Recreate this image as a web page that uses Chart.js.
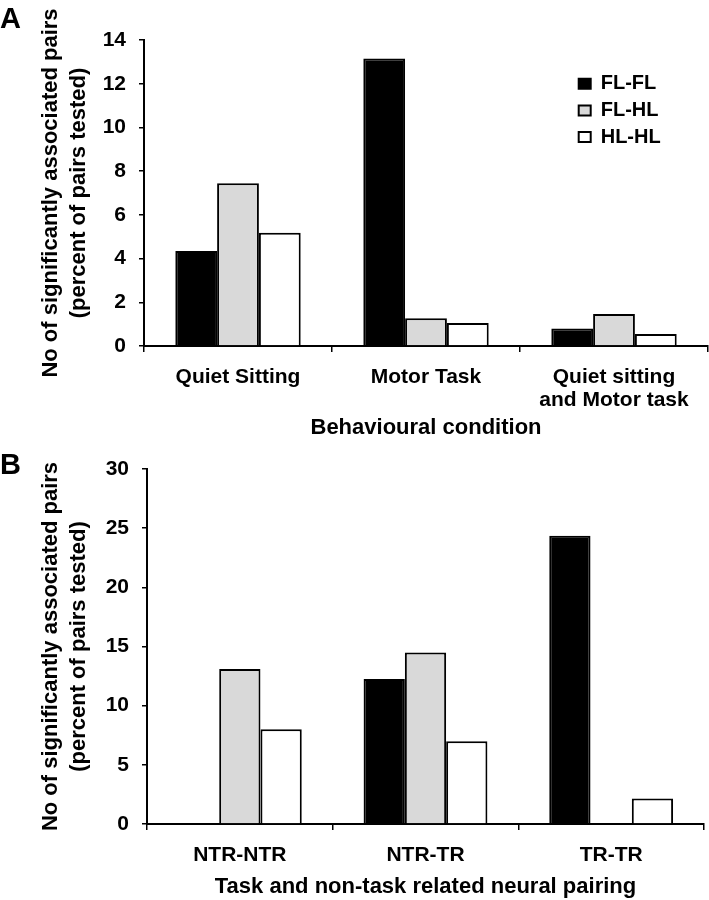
<!DOCTYPE html>
<html>
<head>
<meta charset="utf-8">
<script src="https://cdn.jsdelivr.net/npm/chart.js@4"></script>
<style>
  body { margin: 0; background: #fff; }
  #wrap { position: relative; width: 709px; height: 900px; }
  canvas { position: absolute; left: 0; }
  #chartA { top: 0; }
  #chartB { top: 441px; }
  .panel { position: absolute; left: 0; font: bold 29px 'Liberation Sans', Arial, sans-serif; line-height: 28px; color: #000; }
</style>
</head>
<body>
<div id="wrap">
  <canvas id="chartA" width="709" height="441"></canvas>
  <canvas id="chartB" width="709" height="459"></canvas>
  <div class="panel" style="top:4px">A</div>
  <div class="panel" style="top:450px">B</div>
</div>
<script>
// panel A: behavioural condition
const conditions = ['Quiet Sitting', 'Motor Task', ['Quiet sitting', 'and Motor task']];
const flflA = [4.35, 13.15, 0.8];
const flhlA = [7.45, 1.27, 1.46];
const hlhlA = [5.18, 1.05, 0.55];

// panel B: task / non-task related pairing
const pairings = ['NTR-NTR', 'NTR-TR', 'TR-TR'];
const flflB = [0, 12.25, 24.35];
const flhlB = [13.1, 14.5, 0];
const hlhlB = [8.0, 7.0, 2.15];

const seriesNames = ['FL-FL', 'FL-HL', 'HL-HL'];
const fills = ['#000000', '#d9d9d9', '#ffffff'];

Chart.defaults.font.family = "'Liberation Sans', Arial, sans-serif";
Chart.defaults.font.weight = 'bold';
Chart.defaults.color = '#000';

const yTitle = ['No of significantly associated pairs', '(percent of pairs tested)'];

function makeDatasets(rows) {
    return rows.map((vals, i) => ({
        label: seriesNames[i],
        data: vals,
        backgroundColor: fills[i],
        borderColor: '#000',
        borderWidth: 2,
        categoryPercentage: 0.667,
        barPercentage: 1,
    }));
}

function makeOptions(cfg) {
    return {
        responsive: false,
        animation: false,
        layout: { padding: { top: cfg.top, right: cfg.right, left: 0, bottom: 0 } },
        scales: {
            x: {
                grid: { display: true, drawOnChartArea: false, tickLength: 6, color: '#000', lineWidth: 1.5 },
                border: { color: '#000', width: 2 },
                ticks: { font: { size: 21, lineHeight: 1.1 }, padding: 14, maxRotation: 0, autoSkip: false },
                title: { display: true, text: cfg.xTitle, font: { size: 22 }, padding: { top: 0, bottom: 0 } },
                afterFit: s => { s.height = cfg.xHeight; },
            },
            y: {
                min: 0,
                max: cfg.max,
                ticks: { stepSize: cfg.step, font: { size: 21 }, padding: 13 },
                grid: { drawOnChartArea: false, tickLength: 5, color: '#000', lineWidth: 1.5 },
                border: { color: '#000', width: 2 },
                title: { display: true, text: yTitle, font: { size: 22, lineHeight: 1.27 }, padding: { top: 37, bottom: 0 } },
                afterFit: s => { s.width = cfg.yWidth; },
            },
        },
        plugins: {
            legend: cfg.legend ? {
                position: 'chartArea',
                align: 'start',
                labels: { boxWidth: 12, boxHeight: 10, padding: 6.7, font: { size: 20 }, color: '#000' },
            } : { display: false },
            tooltip: { enabled: false },
        },
    };
}

// move the legend to the upper right of the plot
const legendPlace = {
    id: 'legendPlace',
    afterLayout(chart) {
        const lg = chart.legend;
        if (!lg || !lg.options.display) return;
        const w = lg.width;
        lg.left = 572;
        lg.right = lg.left + w;
        lg.top = 67;
        lg.bottom = lg.top + 200;
    },
};

new Chart(document.getElementById('chartA'), {
    type: 'bar',
    data: { labels: conditions, datasets: makeDatasets([flflA, flhlA, hlhlA]) },
    options: makeOptions({ top: 40, right: 1, max: 14, step: 2, xHeight: 95, yWidth: 144, xTitle: 'Behavioural condition', legend: true }),
    plugins: [legendPlace],
});

new Chart(document.getElementById('chartB'), {
    type: 'bar',
    data: { labels: pairings, datasets: makeDatasets([flflB, flhlB, hlhlB]) },
    options: makeOptions({ top: 28, right: 5, max: 30, step: 5, xHeight: 76, yWidth: 147, xTitle: 'Task and non-task related neural pairing', legend: false }),
});
</script>
</body>
</html>
